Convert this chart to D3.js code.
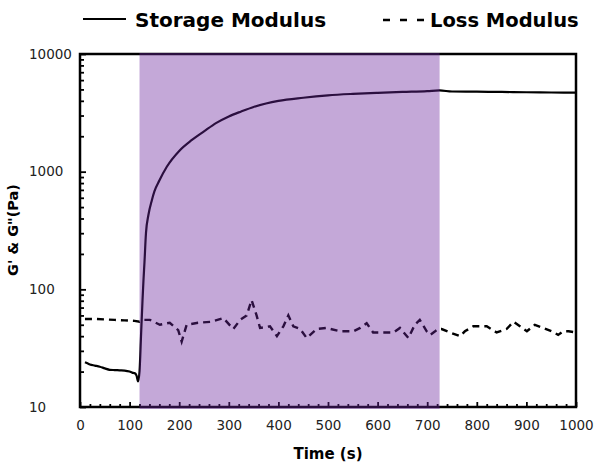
<!DOCTYPE html>
<html>
<head>
<meta charset="utf-8">
<script src="https://cdn.jsdelivr.net/npm/d3@7"></script>
<style>
  body { margin: 0; background: #fff; }
  text { font-family: "DejaVu Sans", sans-serif; }
</style>
</head>
<body>
<script>
const width = 597;
const height = 467;
const margin = { top: 54, right: 21, bottom: 60, left: 80 };

// storage modulus G' (Pa) vs time (s)
const storageTime = [10, 15, 20, 30, 40, 50, 60, 70, 80, 90, 100, 105, 110, 114, 117, 120, 123, 126, 128, 130, 133, 138, 145, 150, 160, 175, 200, 225, 250, 275, 300, 325, 350, 375, 400, 450, 500, 550, 600, 650, 700, 725, 750, 800, 850, 900, 950, 1000];
const storageValue = [24, 23.5, 23, 22.5, 22, 21.3, 20.7, 20.6, 20.5, 20.4, 20, 19.6, 19.4, 18.5, 16.5, 20, 40, 80, 120, 170, 300, 430, 575, 680, 840, 1100, 1500, 1850, 2200, 2600, 2950, 3250, 3550, 3800, 4000, 4250, 4450, 4580, 4680, 4760, 4830, 4900, 4800, 4780, 4760, 4730, 4710, 4700];

// loss modulus G'' (Pa) vs time (s)
const lossTime = [10, 30, 50, 70, 90, 110, 120, 128, 141, 161, 181, 198, 205, 215, 238, 265, 289, 309, 323, 336, 346, 356, 363, 383, 397, 410, 420, 430, 444, 457, 477, 497, 524, 551, 565, 578, 591, 612, 632, 645, 662, 675, 685, 699, 706, 716, 722, 729, 746, 766, 776, 793, 820, 840, 860, 874, 887, 901, 917, 934, 951, 964, 974, 985, 1000];
const lossValue = [56, 56, 55.5, 55, 54.5, 54, 53, 55, 55, 50, 52, 45, 36, 50, 52, 53, 57, 46, 55, 60, 81, 60, 47, 48.5, 40, 48.5, 60, 48.5, 46, 38.6, 46, 47, 44, 44, 47, 51.5, 43, 43, 43, 47, 38.6, 50, 55, 44, 41, 44, 46, 46, 43, 40, 44, 48.5, 48.5, 43, 46, 53, 48.5, 44, 50, 47, 44, 41, 44, 44, 43];

// highlighted time window
const bandTime = [120, 725];

const xTicks = d3.range(0, 1001, 100);
const xMinorTicks = d3.range(20, 1000, 20).filter(d => d % 100 !== 0);
const yTicks = [10, 100, 1000, 10000];
const yMinorTicks = [1, 2, 3].flatMap(p => d3.range(2, 10).map(m => m * Math.pow(10, p)));

const seriesNames = ['Storage Modulus', 'Loss Modulus'];

const svg = d3.select('body')
  .append('svg')
  .attr('width', width)
  .attr('height', height);

const x = d3.scaleLinear()
  .domain([0, 1000])
  .range([margin.left, width - margin.right]);

const y = d3.scaleLog()
  .domain([10, 10000])
  .range([height - margin.bottom, margin.top]);

const line = d3.line()
  .x(d => x(d[0]))
  .y(d => y(d[1]));

// series
svg.append('path')
  .datum(d3.zip(storageTime, storageValue))
  .attr('fill', 'none')
  .attr('stroke', '#000')
  .attr('stroke-width', 2.2)
  .attr('stroke-linejoin', 'round')
  .attr('d', line.curve(d3.curveMonotoneX));

svg.append('path')
  .datum(d3.zip(lossTime, lossValue))
  .attr('fill', 'none')
  .attr('stroke', '#000')
  .attr('stroke-width', 2.4)
  .attr('stroke-dasharray', '7,5')
  .attr('d', line.curve(d3.curveLinear));

// axes
const axisStyle = g => {
  g.select('.domain').remove();
  g.selectAll('line').attr('stroke', '#000').attr('stroke-width', 1.8);
  g.selectAll('text')
    .attr('fill', '#222')
    .style('font-family', '"DejaVu Sans", sans-serif')
    .style('font-size', '13.5px');
};

svg.append('g')
  .attr('transform', `translate(${margin.left},0)`)
  .call(d3.axisLeft(y).tickValues(yTicks).tickSize(-6).tickFormat(d3.format('d')))
  .call(axisStyle)
  .call(g => g.selectAll('text').attr('x', -51).attr('text-anchor', 'start'));

svg.append('g')
  .attr('transform', `translate(${margin.left},0)`)
  .call(d3.axisLeft(y).tickValues(yMinorTicks).tickSize(-4).tickFormat(''))
  .call(axisStyle);

svg.append('g')
  .attr('transform', `translate(0,${height - margin.bottom})`)
  .call(d3.axisBottom(x).tickValues(xTicks).tickSize(-5).tickFormat(d3.format('d')))
  .call(axisStyle)
  .call(g => g.selectAll('text').attr('y', 13));

svg.append('g')
  .attr('transform', `translate(0,${height - margin.bottom})`)
  .call(d3.axisBottom(x).tickValues(xMinorTicks).tickSize(-3).tickFormat(''))
  .call(axisStyle);

// frame
svg.append('rect')
  .attr('x', margin.left)
  .attr('y', margin.top)
  .attr('width', width - margin.left - margin.right)
  .attr('height', height - margin.top - margin.bottom)
  .attr('fill', 'none')
  .attr('stroke', '#000')
  .attr('stroke-width', 2.5);

// translucent purple band drawn over the lines
svg.append('rect')
  .attr('x', x(bandTime[0]))
  .attr('y', margin.top - 1)
  .attr('width', x(bandTime[1]) - x(bandTime[0]))
  .attr('height', height - margin.top - margin.bottom + 3)
  .attr('fill', 'rgb(108,38,157)')
  .attr('fill-opacity', 0.4);

// axis titles
svg.append('text')
  .attr('x', (margin.left + width - margin.right) / 2)
  .attr('y', 459)
  .attr('text-anchor', 'middle')
  .style('font-weight', 'bold')
  .style('font-size', '15px')
  .text('Time (s)');

svg.append('text')
  .attr('transform', 'translate(18,230) rotate(-90)')
  .attr('text-anchor', 'middle')
  .style('font-weight', 'bold')
  .style('font-size', '14.5px')
  .text('G\' & G"(Pa)');

// legend
const legend = svg.append('g');
legend.append('line')
  .attr('x1', 83).attr('x2', 126)
  .attr('y1', 19).attr('y2', 19)
  .attr('stroke', '#000')
  .attr('stroke-width', 2);
legend.append('text')
  .attr('x', 135).attr('y', 27)
  .style('font-weight', 'bold')
  .style('font-size', '20px')
  .text(seriesNames[0]);
legend.append('line')
  .attr('x1', 383).attr('x2', 424)
  .attr('y1', 20).attr('y2', 20)
  .attr('stroke', '#000')
  .attr('stroke-width', 2.5)
  .attr('stroke-dasharray', '7,10');
legend.append('text')
  .attr('x', 430).attr('y', 27)
  .style('font-weight', 'bold')
  .style('font-size', '19.5px')
  .text(seriesNames[1]);
</script>
</body>
</html>
